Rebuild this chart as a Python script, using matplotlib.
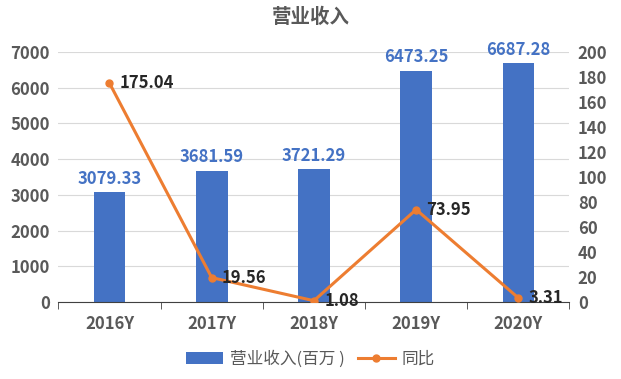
import numpy as np
import matplotlib.pyplot as plt
from matplotlib.ticker import MultipleLocator, FixedLocator

plt.rcParams['font.family'] = ['Noto Sans CJK SC', 'DejaVu Sans']

years = ['2016Y', '2017Y', '2018Y', '2019Y', '2020Y']
revenue = [3079.33, 3681.59, 3721.29, 6473.25, 6687.28]
yoy = [175.04, 19.56, 1.08, 73.95, 3.31]

BLUE = '#4472C4'
ORANGE = '#ED7D31'
TXT = '#595959'

fig = plt.figure(figsize=(6.21, 3.79), dpi=100)
ax = fig.add_axes([0.094, 0.203, 0.823, 0.66])
x = np.arange(len(years))

ax.bar(x, revenue, width=0.31, color=BLUE, zorder=2, label='营业收入(百万 )')
for xi, v in zip(x, revenue):
    ax.text(xi, v + 120, f'{v:.2f}', ha='center', va='bottom', color=BLUE,
            fontsize=12, fontweight='bold')
ax.set_xlim(-0.5, len(years) - 0.5)
ax.set_ylim(0, 7000)
ax.yaxis.set_major_locator(MultipleLocator(1000))
ax.grid(axis='y', color='#D9D9D9', linewidth=0.8, zorder=0)
ax.set_xticks(x)
ax.set_xticklabels(years)
ax.xaxis.set_minor_locator(FixedLocator(np.arange(-0.5, len(years), 1.0)))
ax.tick_params(axis='x', which='major', length=0, pad=9)
ax.tick_params(axis='x', which='minor', length=5, color='#404040')
ax.tick_params(axis='y', length=0, pad=6)
for s in ['top', 'left', 'right']:
    ax.spines[s].set_visible(False)
ax.spines['bottom'].set_color('#404040')

ax2 = ax.twinx()
ax2.plot(x, yoy, color=ORANGE, linewidth=2.2, marker='o', markersize=5,
         zorder=3, label='同比')
for xi, v in zip(x, yoy):
    ax2.text(xi + 0.1, v, f'{v:.2f}', ha='left', va='center', color='#262626',
             fontsize=12, fontweight='bold')
ax2.set_ylim(0, 200)
ax2.yaxis.set_major_locator(MultipleLocator(20))
ax2.tick_params(axis='y', length=0, pad=6)
for s in ['top', 'left', 'right', 'bottom']:
    ax2.spines[s].set_visible(False)

for a in (ax, ax2):
    for lab in a.get_xticklabels() + a.get_yticklabels():
        lab.set_fontsize(12)
        lab.set_fontweight('bold')
        lab.set_color(TXT)

fig.suptitle('营业收入', x=0.5, y=0.98, fontsize=14, fontweight='bold', color=TXT)

h1, l1 = ax.get_legend_handles_labels()
h2, l2 = ax2.get_legend_handles_labels()
leg = fig.legend(h1 + h2, l1 + l2, loc='lower center', bbox_to_anchor=(0.5, -0.01),
                 ncol=2, frameon=False, fontsize=12, handlelength=2.2,
                 columnspacing=0.8, handletextpad=0.4)
for t in leg.get_texts():
    t.set_color(TXT)

fig.savefig('out.png', dpi=100)
